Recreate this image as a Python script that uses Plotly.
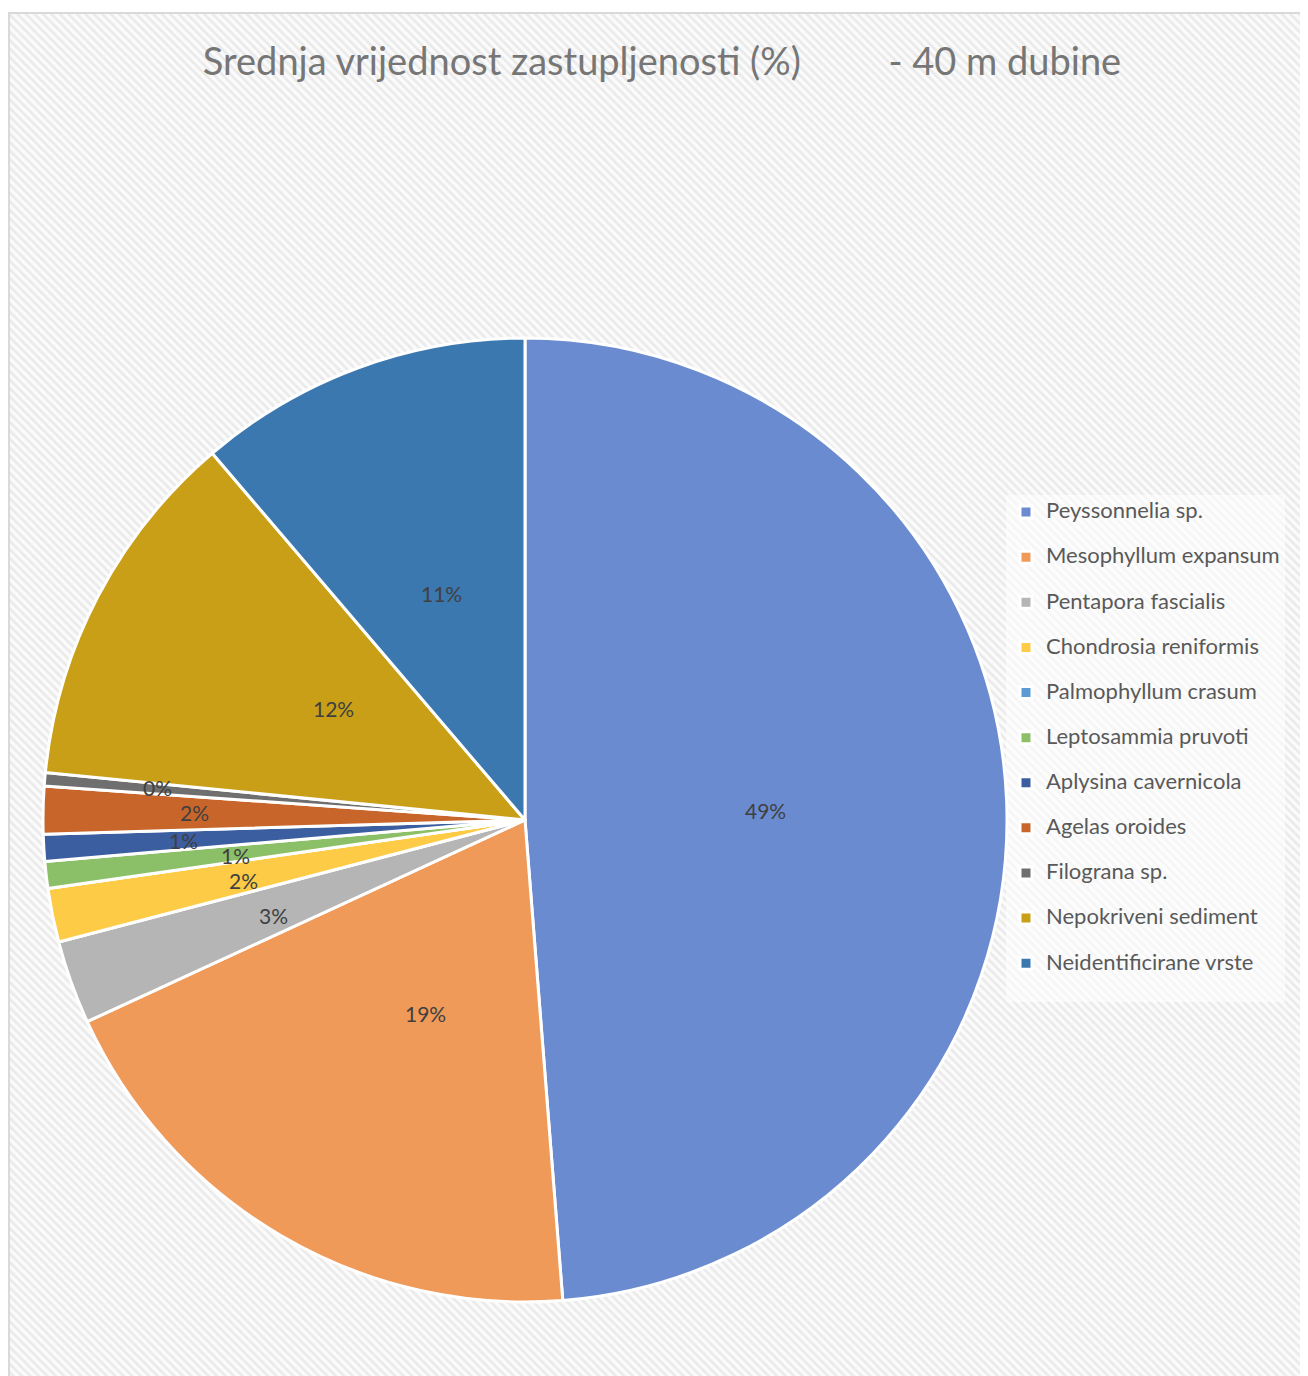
import math
import plotly.graph_objects as go

# page body has an 8px margin, so figure coords = screen coords - 8
W, H = 1300, 1368
OFF = 8

# data
species = [
    "Peyssonnelia sp.", "Mesophyllum expansum", "Pentapora fascialis",
    "Chondrosia reniformis", "Palmophyllum crasum", "Leptosammia pruvoti",
    "Aplysina cavernicola", "Agelas oroides", "Filograna sp.",
    "Nepokriveni sediment", "Neidentificirane vrste",
]
share = [48.8, 19.4, 2.8, 1.8, 0.0, 0.9, 0.9, 1.6, 0.45, 12.2, 11.25]

colors = ["#6a8bd0", "#f09a5a", "#b5b5b5", "#fecb47", "#5b9bd5", "#8cc068",
          "#3a5ea0", "#c8652a", "#6f6f6f", "#c99f17", "#3c78b0"]
# how far out (fraction of radius) each percentage label sits
label_r = [0.5, 0.5, 0.59, 0.63, 0.5, 0.64, 0.745, 0.72, 0.80, 0.5, 0.5]

cx, cy, R = 525 - OFF, 820 - OFF, 482
font = "Lato, 'Open Sans', sans-serif"

fig = go.Figure()

# hatched chart-area background
fig.add_trace(go.Bar(
    x=[0.5], y=[1], width=[1], showlegend=False, hoverinfo="skip",
    marker=dict(color="white", line=dict(width=0),
                pattern=dict(shape="\\", fgcolor="#d9d9d9", bgcolor="#fbfbfb",
                             size=6, solidity=0.45)),
    xaxis="x", yaxis="y",
))

# legend entries: bigger visible text, with a blank 2nd line for Excel-like spacing
legend_names = [f"<span style='font-size:22px'>{s}</span><br>\u00a0" for s in species]

fig.add_trace(go.Pie(
    labels=legend_names, values=share, sort=False, direction="clockwise", rotation=0,
    marker=dict(colors=colors, line=dict(color="white", width=3)),
    textinfo="none", hovertext=species, hoverinfo="text+percent",
    domain=dict(x=[(cx - R) / W, (cx + R) / W], y=[1 - (cy + R) / H, 1 - (cy - R) / H]),
))

# percentage labels placed at each slice's mid angle
total = sum(share)
acc = 0
for v, rf in zip(share, label_r):
    if v > 0:
        mid = (acc + v / 2) / total * 2 * math.pi
        px_ = cx + rf * R * math.sin(mid)
        py_ = cy - rf * R * math.cos(mid)
        fig.add_annotation(
            x=px_ / W, y=1 - py_ / H, xref="paper", yref="paper",
            text=f"{round(v / total * 100)}%", showarrow=False,
            font=dict(family=font, size=21, color="#404040"),
        )
    acc += v

fig.update_layout(
    width=W, height=H,
    margin=dict(l=0, r=0, t=0, b=0),
    paper_bgcolor="white", plot_bgcolor="rgba(0,0,0,0)",
    xaxis=dict(domain=[0, 1], range=[0, 1], visible=False, fixedrange=True),
    yaxis=dict(domain=[0, 1 - 5 / H], range=[0, 1], visible=False, fixedrange=True),
    bargap=0,
    title=dict(
        text="Srednja vrijednost zastupljenosti (%)\u00a0\u00a0\u00a0\u00a0\u00a0\u00a0\u00a0\u00a0 - 40 m dubine",
        x=(662 - OFF) / W, xanchor="center", y=1 - (62 - OFF) / H, yanchor="middle",
        font=dict(family=font, size=38, color="#767676"),
    ),
    legend=dict(
        x=(1006 - OFF) / W, xanchor="left", y=1 - (495 - OFF) / H, yanchor="top",
        bgcolor="rgba(255,255,255,0.55)", valign="top",
        font=dict(family=font, size=16.2, color="#595959"),
        itemclick=False,
    ),
    shapes=[dict(type="rect", xref="paper", yref="paper",
                 x0=0.0008, x1=1.01, y0=-0.01, y1=1 - 5 / H,
                 line=dict(color="#d9d9d9", width=2))],
)

fig.write_html("out.html")
